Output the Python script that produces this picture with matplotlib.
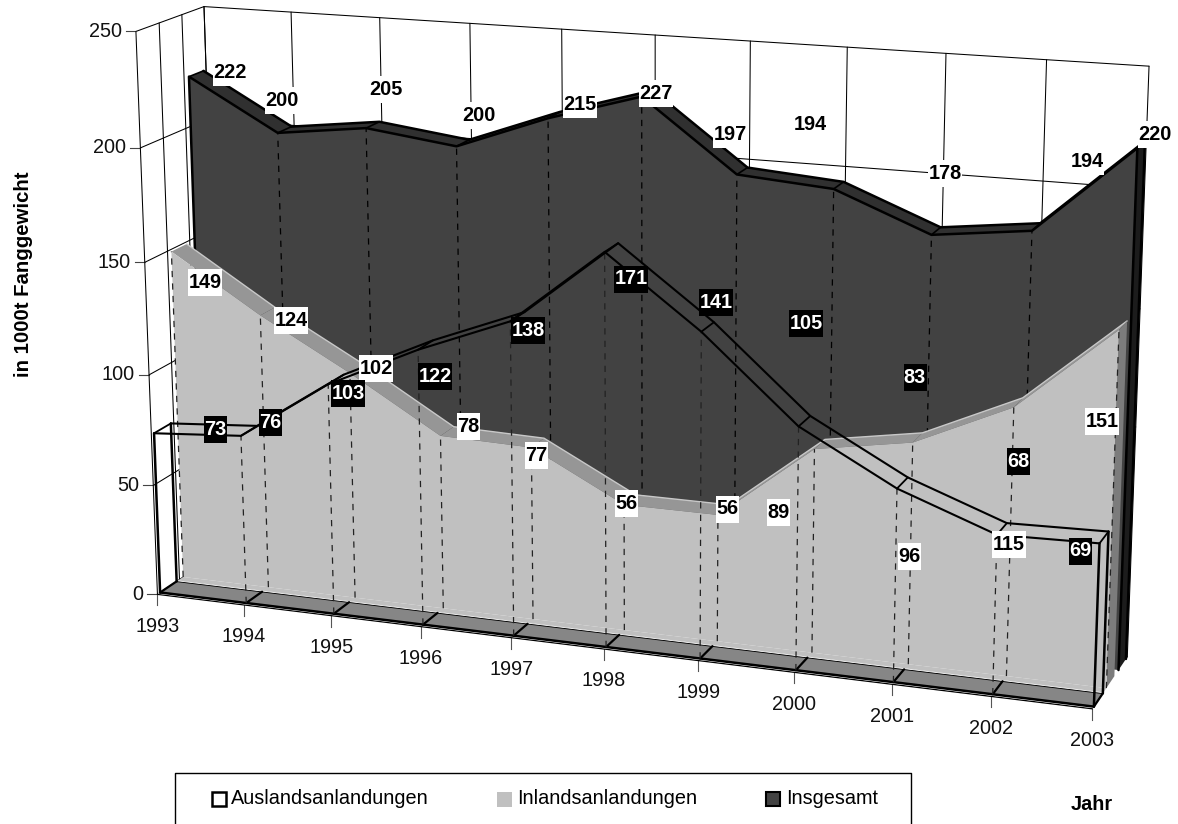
import numpy as np
import matplotlib
matplotlib.use('Agg')
import matplotlib.pyplot as plt
from matplotlib.patches import Polygon, Rectangle

plt.rcParams['font.family'] = ['Liberation Sans', 'DejaVu Sans']

#%%
# Data
years = [1993, 1994, 1995, 1996, 1997, 1998, 1999, 2000, 2001, 2002, 2003]
ausland = [73, 76, 103, 122, 138, 171, 141, 105, 83, 68, 69]
inland = [149, 124, 102, 78, 77, 56, 56, 89, 96, 115, 151]
insgesamt = [222, 200, 205, 200, 215, 227, 197, 194, 178, 183, 220]
insgesamt_labels = [222, 200, 205, 200, 215, 227, 197, 194, 178, 194, 220]
y_ticks = [0, 50, 100, 150, 200, 250]

# Label centres in figure pixels (Excel put them rather freely)
pos_ausland = [(215, 429), (270, 422), (348, 393), (435, 376), (528, 330), (631, 279),
               (716, 302), (806, 323), (915, 377), (1018, 461), (1080, 551)]
pos_inland = [(205, 282), (291, 320), (376, 368), (468, 426), (536, 455), (626, 503),
              (727, 509), (778, 512), (909, 556), (1009, 544), (1102, 421)]
pos_total = [(230, 72), (282, 100), (386, 89), (479, 115), (580, 104), (656, 93),
             (730, 134), (810, 124), (945, 173), (1087, 161), (1155, 134)]

#%%
# Perspective of the fake 3D box: (year index, value, depth) -> pixel, fitted on box anchors
anchors = [
    ((0, 0, 0), (158, 593)), ((0, 250, 0), (136, 30)),
    ((10, 0, 0), (1093, 710)), ((10, 250, 0), (1113, 98)),
    ((0, 0, 1), (222, 553)), ((0, 250, 1), (204, 7)),
    ((10, 0, 1), (1127, 655)), ((10, 250, 1), (1149, 66)),
    ((1, 0, 0), (243, 604)), ((9, 0, 0), (991, 697)),
    ((1, 250, 1), (291, 13)), ((9, 250, 1), (1047, 58)),
]
rows, rhs = [], []
for (u, v, w), (px, py) in anchors:
    rows.append([u, v, w, 1, 0, 0, 0, 0, -px * u, -px * v, -px * w])
    rows.append([0, 0, 0, 0, u, v, w, 1, -py * u, -py * v, -py * w])
    rhs += [px, py]
h = np.linalg.lstsq(np.array(rows, float), np.array(rhs, float), rcond=None)[0]


def proj(u, v, w):
    d = h[8] * u + h[9] * v + h[10] * w + 1
    return ((h[0] * u + h[1] * v + h[2] * w + h[3]) / d,
            (h[4] * u + h[5] * v + h[6] * w + h[7]) / d)


fig = plt.figure(figsize=(11.78, 8.24), dpi=100)
ax = fig.add_axes([0, 0, 1, 1])
ax.set_xlim(0, 1178)
ax.set_ylim(824, 0)
ax.axis('off')


def line(pts, **kw):
    xy = [proj(*p) for p in pts]
    ax.plot([q[0] for q in xy], [q[1] for q in xy], solid_capstyle='round', **kw)


def poly(pts, fc, z):
    ax.add_patch(Polygon([proj(*p) for p in pts], closed=True, fc=fc, ec='none', zorder=z))


def label(text, x, y, fc, color):
    # box size as measured on the reference: 27 px high, 23 or 34 px wide
    bw = 34 if len(text) == 3 else 23
    ax.add_patch(Rectangle((x - bw / 2, y - 13.5), bw, 27, fc=fc, ec='none', zorder=6))
    ax.text(x, y, text, ha='center', va='center', fontsize=14.3, fontweight='bold', color=color, zorder=6.1)


n = len(years)
grid = dict(color='black', lw=0.75)

#%%
# Walls and ticks
for v in y_ticks:
    line([(0, v, 0), (0, v, 1), (10, v, 1)], zorder=1, **grid)
    x0, y0 = proj(0, v, 0)
    ax.plot([x0 - 10, x0], [y0, y0], color='#444444', lw=0.8, zorder=1)
    ax.text(x0 - 14, y0, str(v), ha='right', va='center', fontsize=14.3, color='#111111')
for w in [0, 1 / 3, 2 / 3, 1]:
    line([(0, 0, w), (0, 250, w)], zorder=1, **grid)
for i in range(n):
    line([(i, 0, 1), (i, 250, 1)], zorder=1, **grid)
    x0, y0 = proj(i, 0, 0)
    ax.plot([x0, x0], [y0, y0 + 11], color='#555555', lw=0.8, zorder=1)
    ax.text(x0, y0 + 32, str(years[i]), ha='center', va='center', fontsize=14.3, color='#111111')


def ribbon(vals, w0, w1, top_fc, z):
    for i in range(n - 1):
        poly([(i, vals[i], w0), (i + 1, vals[i + 1], w0), (i + 1, vals[i + 1], w1), (i, vals[i], w1)], top_fc, z)


#%%
# Insgesamt, back series
w0, w1 = 0.74, 0.96
ribbon(insgesamt, w0, w1, '#303030', 2)
line([(i, insgesamt[i], w1) for i in range(n)], color='black', lw=1.8, zorder=2.1)
for i in range(n):
    line([(i, insgesamt[i], w0), (i, insgesamt[i], w1)], color='black', lw=1.2, zorder=2.1)
poly([(10, 0, w0), (10, insgesamt[-1], w0), (10, insgesamt[-1], w1), (10, 0, w1)], '#1c1c1c', 2.2)
line([(10, 0, w1), (10, insgesamt[-1], w1)], color='black', lw=1.8, zorder=2.2)
poly([(i, insgesamt[i], w0) for i in range(n)] + [(10, 0, w0), (0, 0, w0)], '#424242', 2.3)
line([(0, 0, w0), (0, insgesamt[0], w0)] + [(i, insgesamt[i], w0) for i in range(1, n)] + [(10, 0, w0)],
     color='black', lw=1.8, zorder=2.4)
for i in range(1, n - 1):
    line([(i, 0, w0), (i, insgesamt[i], w0)], color='black', lw=0.9, linestyle=(0, (5, 5)), zorder=2.4)

#%%
# Inlandsanlandungen, middle series
w0, w1 = 0.39, 0.62
ribbon(inland, w0, w1, '#969696', 3)
line([(i, inland[i], w1) for i in range(n)], color='#c8c8c8', lw=1, zorder=3.1)
poly([(10, 0, w0), (10, inland[-1], w0), (10, inland[-1], w1), (10, 0, w1)], '#7c7c7c', 3.2)
poly([(i, inland[i], w0) for i in range(n)] + [(10, 0, w0), (0, 0, w0)], '#c0c0c0', 3.3)
# fills the gap between the face and the floor strip in front of it
poly([(0, 0, w0), (10, 0, w0), (10, 0, 0.29), (0, 0, 0.29)], '#c0c0c0', 3.3)
for i in range(n):
    line([(i, 0, w0), (i, inland[i], w0)], color='#222222', lw=0.9, linestyle=(0, (5, 5)), zorder=3.4)

#%%
# Auslandsanlandungen, front series: only its outline and the floor strip are painted
w0, w1 = 0.04, 0.29
poly([(0, 0, 0), (10, 0, 0), (10, 0, w1), (0, 0, w1)], '#868686', 4)
line([(0, 0, w1), (10, 0, w1)], color='black', lw=1, zorder=4.1)
line([(0, 0, w1 + 0.012), (10, 0, w1 + 0.012)], color='white', lw=0.6, zorder=4.1)
line([(0, 0, 0), (10, 0, 0)], color='black', lw=1, zorder=4.1)
line([(0, 0, 0.02), (10, 0, 0.02)], color='white', lw=0.8, zorder=4.1)
line([(0, 0, w0), (10, 0, w0)], color='black', lw=1.8, zorder=4.1)
for i in range(n):
    line([(i, 0, w0), (i, 0, w1)], color='black', lw=1.6, zorder=4.2)
    if i not in (0, n - 1):
        line([(i, 0, w0), (i, ausland[i], w0)], color='#222222', lw=0.9, linestyle=(0, (5, 5)), zorder=4.2)
    line([(i, ausland[i], w0), (i, ausland[i], w1)], color='black', lw=1.3, zorder=4.3)
for w in (w0, w1):
    line([(i, ausland[i], w) for i in range(n)], color='black', lw=1.5, zorder=4.3)
    line([(0, 0, w), (0, ausland[0], w)], color='black', lw=1.8, zorder=4.3)
    line([(10, 0, w), (10, ausland[-1], w)], color='black', lw=1.8, zorder=4.3)

#%%
# Data labels
for lab, (x, y) in zip(insgesamt_labels, pos_total):
    label(str(lab), x, y, 'white', 'black')
for lab, (x, y) in zip(inland, pos_inland):
    label(str(lab), x, y, 'white', 'black')
for lab, (x, y) in zip(ausland, pos_ausland):
    label(str(lab), x, y, 'black', 'white')

#%%
# Axis titles and legend
ax.text(24, 274, 'in 1000t Fanggewicht', rotation=90, ha='center', va='center', fontsize=14.7, fontweight='bold')
ax.text(1092, 804, 'Jahr', ha='center', va='center', fontsize=14.3, fontweight='bold')

ax.plot([175, 175, 911, 911], [824, 773, 773, 824], color='black', lw=1, zorder=5)
ax.add_patch(Rectangle((212, 792), 14, 14, fc='white', ec='black', lw=1.8, zorder=5))
ax.text(231, 799, 'Auslandsanlandungen', ha='left', va='center', fontsize=14.3)
ax.add_patch(Rectangle((497, 792), 15, 15, fc='#c0c0c0', ec='none', zorder=5))
ax.text(517, 799, 'Inlandsanlandungen', ha='left', va='center', fontsize=14.3)
ax.add_patch(Rectangle((766, 792), 14, 14, fc='#424242', ec='black', lw=1.5, zorder=5))
ax.text(786, 799, 'Insgesamt', ha='left', va='center', fontsize=14.3)

fig.savefig('out.png', dpi=100)
